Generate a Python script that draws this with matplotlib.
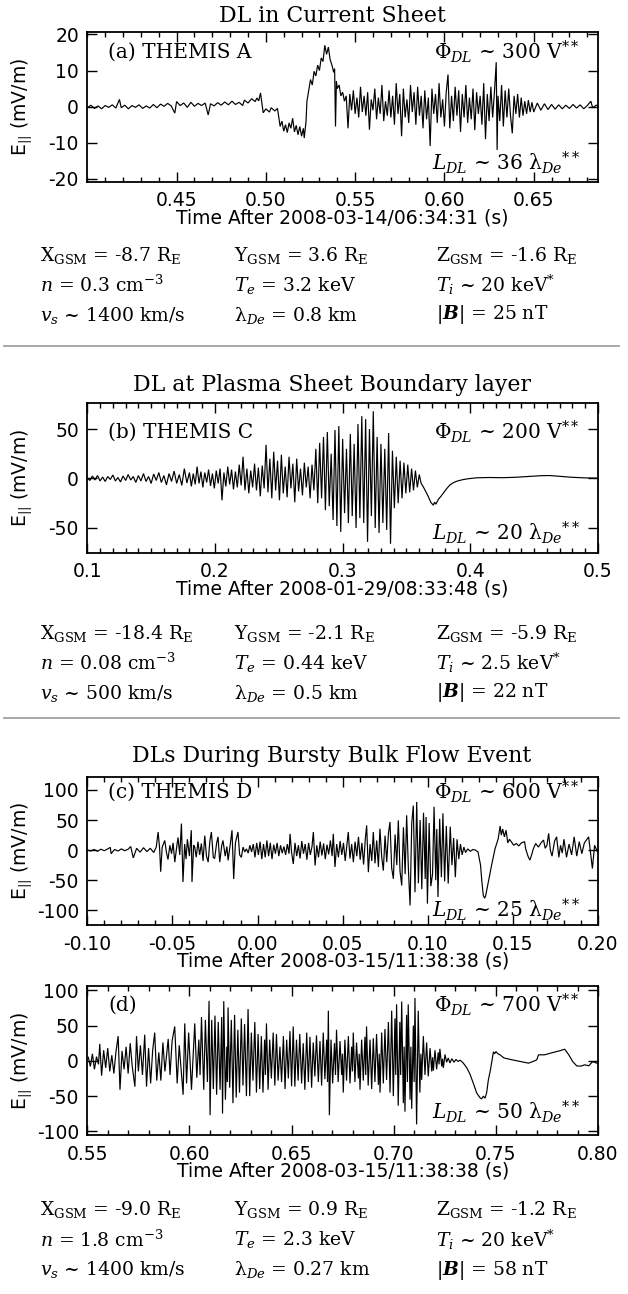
import matplotlib
matplotlib.use("Agg")
import matplotlib.pyplot as plt
from matplotlib.lines import Line2D
from matplotlib.ticker import FixedLocator, FormatStrFormatter

# ---------------- data ----------------
# (a) THEMIS A, time after 2008-03-14/06:34:31 (s), E_par (mV/m)
t_a = [0.400, 0.402, 0.404, 0.406, 0.408, 0.410, 0.412, 0.414, 0.416, 0.418,
       0.419, 0.421, 0.423, 0.425, 0.427, 0.429, 0.431, 0.433, 0.435, 0.437,
       0.439, 0.441, 0.443, 0.445, 0.447, 0.449, 0.450, 0.452, 0.454, 0.456,
       0.458, 0.460, 0.462, 0.464, 0.466, 0.4677, 0.469, 0.471, 0.473, 0.475,
       0.477, 0.479, 0.481, 0.483, 0.485, 0.487, 0.488, 0.490, 0.492, 0.494,
       0.495, 0.496, 0.497, 0.4985, 0.500, 0.502, 0.503, 0.505, 0.5065, 0.508,
       0.509, 0.510, 0.511, 0.512, 0.513, 0.514, 0.515, 0.516, 0.517, 0.518,
       0.519, 0.520, 0.521, 0.5215, 0.5225, 0.523, 0.524, 0.525, 0.526, 0.527,
       0.528, 0.529, 0.530, 0.531, 0.532, 0.533, 0.534, 0.535, 0.536, 0.537,
       0.538, 0.5385, 0.539, 0.5395, 0.540, 0.541, 0.542, 0.543, 0.544, 0.545,
       0.546, 0.547, 0.548, 0.549, 0.550, 0.551, 0.552, 0.553, 0.554, 0.555,
       0.556, 0.557, 0.558, 0.559, 0.560, 0.561, 0.562, 0.563, 0.564, 0.565,
       0.566, 0.567, 0.568, 0.569, 0.570, 0.571, 0.572, 0.573, 0.574, 0.575,
       0.576, 0.577, 0.578, 0.579, 0.580, 0.581, 0.582, 0.583, 0.584, 0.585,
       0.586, 0.587, 0.588, 0.589, 0.590, 0.591, 0.592, 0.593, 0.594, 0.595,
       0.596, 0.597, 0.598, 0.599, 0.600, 0.601, 0.602, 0.603, 0.604, 0.605,
       0.606, 0.607, 0.608, 0.609, 0.610, 0.611, 0.612, 0.613, 0.614, 0.615,
       0.616, 0.617, 0.618, 0.619, 0.620, 0.621, 0.622, 0.623, 0.624, 0.625,
       0.626, 0.627, 0.628, 0.629, 0.6295, 0.630, 0.631, 0.632, 0.633, 0.634,
       0.635, 0.636, 0.637, 0.638, 0.639, 0.640, 0.641, 0.642, 0.643, 0.644,
       0.645, 0.646, 0.647, 0.648, 0.649, 0.650, 0.652, 0.654, 0.656, 0.658,
       0.660, 0.662, 0.664, 0.666, 0.668, 0.670, 0.672, 0.674, 0.676, 0.678,
       0.680, 0.682, 0.683, 0.685, 0.686]
e_a = [-0.3, 0.4, -0.5, 0.2, -0.6, 0.3, -0.2, 0.5, -0.4, 2.0,
       -0.3, 0.4, -0.6, 0.3, -0.2, 0.5, -0.5, 0.2, -0.4, 0.6,
       -0.3, 0.7, 0.1, 0.9, 0.2, -1.8, 1.4, 0.3, 1.0, -0.2,
       1.2, 0.1, 0.9, 0.3, 1.0, -2.3, 0.8, 0.2, 1.1, 0.4,
       1.3, 0.5, 1.5, 0.6, 1.2, 0.3, 1.8, 1.0, 2.2, 1.4,
       2.4, 1.6, 3.8, -1.7, -0.6, -1.5, -0.3, -1.2, -0.5, -5.5,
       -4.0, -6.8, -5.0, -7.2, -4.5, -6.0, -3.2, -7.0, -5.2, -7.8,
       -5.5, -8.2, -6.0, -8.7, -4.0, 1.5, 4.5, 7.5, 6.0, 9.8,
       8.5, 11.5, 10.0, 13.5, 12.5, 17.0, 14.5, 16.5, 13.0, 11.5,
       9.5, 10.5, -5.5, 7.0, 5.0, 6.0, 3.0, 4.0, 1.5, 3.0,
       -6.0, 3.5, -1.0, 4.5, -2.0, 2.5, -3.0, 5.5, -1.5, 3.0,
       -2.5, 4.0, -6.4, 2.0, -1.0, 5.0, -3.5, 2.5, -2.0, 6.0,
       -4.0, 1.5, -2.5, 4.5, -3.0, 3.0, -5.0, 6.5, -2.0, 3.5,
       -8.2, 5.0, -3.0, 2.0, -4.5, 6.0, -1.5, 4.0, -5.0, 5.5,
       -2.5, 3.0, -6.0, 4.5, -3.5, 2.5, -10.9, 5.0, -2.0, 3.5,
       -4.5, 6.5, -3.0, 2.0, -5.5, 4.0, 8.9, -6.0, 3.0, -4.0,
       5.5, -2.5, 4.5, -7.0, 3.5, -3.0, 6.0, -4.5, 2.5, -3.5,
       5.0, -6.5, 4.0, -2.0, 3.0, -5.0, 6.5, -9.0, 3.5, -4.0,
       5.5, -3.0, 4.0, 12.3, -12.0, 3.0, -4.0, 6.0, -5.5, 4.5,
       -3.0, 5.0, -2.5, -7.4, 3.0, -2.0, 3.5, -3.0, 2.5, -2.5,
       1.5, -2.0, 1.8, -1.5, 1.2, -1.5, 1.0, -1.0, 0.8, -0.8,
       0.6, -0.7, 0.5, -0.6, 0.4, -0.5, 0.6, -0.4, 0.5, -0.6,
       0.3, 1.5, -0.3, 0.4, 0.2]

# (b) THEMIS C, time after 2008-01-29/08:33:48 (s)
t_b = [0.100, 0.102, 0.104, 0.106, 0.108, 0.110, 0.112, 0.114, 0.116, 0.118,
       0.120, 0.122, 0.124, 0.126, 0.128, 0.130, 0.132, 0.134, 0.136, 0.138,
       0.140, 0.142, 0.144, 0.146, 0.148, 0.150, 0.152, 0.154, 0.156, 0.158,
       0.160, 0.162, 0.164, 0.166, 0.168, 0.170, 0.172, 0.174, 0.176, 0.178,
       0.180,
       0.1815, 0.1830, 0.1845, 0.1860, 0.1875, 0.1890, 0.1905, 0.1920, 0.1935, 0.1950,
       0.1965, 0.1980, 0.1995, 0.2010, 0.2025, 0.2040, 0.2055, 0.2070, 0.2085, 0.2100,
       0.2115, 0.2130, 0.2145, 0.2160, 0.2175, 0.2190, 0.2205, 0.2220, 0.2235, 0.2250,
       0.2265, 0.2280, 0.2295, 0.2310, 0.2325, 0.2340, 0.2355, 0.2370, 0.2385, 0.2400,
       0.2415, 0.2430, 0.2445, 0.2460, 0.2475, 0.2490, 0.2505, 0.2520, 0.2535, 0.2550,
       0.2565, 0.2580, 0.2595, 0.2610, 0.2625, 0.2640, 0.2655, 0.2670, 0.2685, 0.2700,
       0.2715, 0.2730, 0.2745, 0.2760, 0.2775, 0.2790, 0.2805, 0.2820, 0.2835, 0.2850,
       0.2865, 0.2880, 0.2895, 0.2910, 0.2925, 0.2940, 0.2955, 0.2970, 0.2985, 0.3000,
       0.3015, 0.3030, 0.3045, 0.3060, 0.3075, 0.3090, 0.3105, 0.3120, 0.3135, 0.3150,
       0.3165, 0.3180, 0.3195, 0.3210, 0.3225, 0.3240, 0.3255, 0.3270, 0.3285, 0.3300,
       0.3315, 0.3330, 0.3345, 0.3360, 0.3375, 0.3390, 0.3405, 0.3420, 0.3435, 0.3450,
       0.3465, 0.3480, 0.3495, 0.3510, 0.3525, 0.3540, 0.3555, 0.3570, 0.3585, 0.3600,
       0.3615,
       0.363, 0.365, 0.367, 0.369, 0.371, 0.372, 0.373, 0.375, 0.377, 0.379,
       0.381, 0.384, 0.387, 0.390, 0.394, 0.398, 0.405, 0.415, 0.425, 0.435,
       0.445, 0.455, 0.462, 0.470, 0.480, 0.490, 0.500]
e_b = [0.5, -2.0, 2.5, -1.5, 3.0, -2.5, 1.5, -3.0, 2.0, -1.0,
       3.5, -2.5, 1.0, -3.5, 2.5, -2.0, 4.0, -1.5, 2.0, -4.0,
       3.0, -2.5, 5.0, -3.0, 2.0, -5.0, 4.5, -2.0, 6.0, -4.0,
       3.0, -6.5, 5.0, -3.0, 7.5, -5.0, 4.0, -7.0, 10.0, -4.5,
       6.0,
       -8.0, 5.0, -6.0, 12.0, -5.0, 7.0, -9.0, 6.0, -4.0, 9.0,
       -7.5, 5.0, -10.0, 8.0, -5.0, 10.0, -22.0, 6.0, -8.0, 12.0,
       -6.0, 9.0, -11.0, 7.0, -9.0, 14.0, -7.0, 22.0, -12.0, 10.0,
       -15.0, 8.0, -9.0, 15.0, -12.0, 11.0, -18.0, 13.0, -10.0, 34.0,
       -14.0, 20.0, -20.0, 27.0, -12.0, 18.0, -22.0, 24.0, -15.0, 12.0,
       -19.0, 22.0, -10.0, 15.0, -24.0, 20.0, -13.0, 10.0, -17.0, 16.0,
       -9.0, 12.0, -20.0, 14.0, -12.0, 30.0, -25.0, 36.0, -20.0, 42.0,
       -32.0, 47.0, -28.0, 25.0, -42.0, 49.0, -48.0, 53.0, -54.0, 40.0,
       -35.0, 30.0, -45.0, 45.0, -38.0, 35.0, -50.0, 55.0, -40.0, 63.0,
       -45.0, 60.0, -64.0, 50.0, -38.0, 68.0, -50.0, 42.0, -55.0, 35.0,
       -45.0, 30.0, -52.0, 46.0, -66.0, 28.0, -30.0, 22.0, -25.0, 18.0,
       -20.0, 16.0, -15.0, 14.0, -14.0, 10.0, -12.0, 8.0, -9.0, 4.0,
       -5.0,
       -8.0, -13.0, -18.0, -24.0, -27.0, -24.0, -26.0, -21.0, -18.0, -14.5,
       -11.0, -6.5, -4.0, -2.5, -1.2, -0.3, 0.7, 1.0, 0.8, 1.2,
       2.0, 2.8, 3.0, 2.2, 1.2, 0.6, 0.3]

# (c) THEMIS D, time after 2008-03-15/11:38:38 (s)
t_c = [-0.100, -0.098, -0.096, -0.094, -0.092, -0.090, -0.088, -0.0865, -0.086, -0.084,
       -0.082, -0.080, -0.078, -0.076, -0.0745, -0.073, -0.071, -0.069, -0.067, -0.065,
       -0.063, -0.061, -0.0595, -0.0584, -0.0575, -0.0569, -0.056, -0.0545, -0.0535, -0.0526,
       -0.0515, -0.0505, -0.0496, -0.0486, -0.0475, -0.0467, -0.0457, -0.0447, -0.0438, -0.0428,
       -0.042, -0.0412, -0.040, -0.0389, -0.0385, -0.0375, -0.0369, -0.036, -0.035, -0.034,
       -0.033, -0.032, -0.031, -0.030, -0.029, -0.028, -0.0271, -0.026, -0.0252, -0.024,
       -0.0232, -0.0222, -0.021, -0.0203, -0.019, -0.018, -0.0173, -0.016, -0.015, -0.014,
       -0.013, -0.0115, -0.0105, -0.0095, -0.0085, -0.0075, -0.0065, -0.0055, -0.0045, -0.0035,
       -0.0025, -0.0015, -0.0005, 0.0005, 0.0015, 0.0025, 0.0035, 0.0045, 0.0055, 0.0065,
       0.0075, 0.0085, 0.0095, 0.0105, 0.0115, 0.0125, 0.0135, 0.0145, 0.0155, 0.0165,
       0.0175, 0.0185, 0.0191, 0.0200, 0.0210, 0.0220, 0.0230, 0.0240, 0.0250, 0.0260,
       0.0270, 0.0280, 0.0290, 0.0300, 0.0310, 0.0320, 0.0328, 0.0338, 0.0348, 0.0358,
       0.0368, 0.0378, 0.0388, 0.0398, 0.0408, 0.0418, 0.0428, 0.0438, 0.0445, 0.0455,
       0.0465, 0.0475, 0.0485, 0.0495, 0.0505, 0.0515, 0.0525, 0.0533, 0.0543, 0.0553,
       0.0563, 0.0573, 0.0583, 0.0593, 0.0603, 0.0613, 0.0623, 0.0633, 0.0641, 0.0651,
       0.0661, 0.0671, 0.0680, 0.0690, 0.0700, 0.0710, 0.0719, 0.0729, 0.0739, 0.0749,
       0.0759, 0.0769, 0.0778, 0.0788, 0.0798, 0.0808, 0.0818, 0.0827, 0.0837, 0.0847,
       0.0857, 0.0867, 0.0876, 0.0886, 0.0896, 0.0906, 0.0915, 0.0925, 0.0935, 0.0945,
       0.0955, 0.0965, 0.0975, 0.0985, 0.0990, 0.0998, 0.1008, 0.1018, 0.1028, 0.1037,
       0.1047, 0.1053, 0.1060, 0.1070, 0.1080, 0.1089, 0.1099, 0.1109, 0.1120, 0.1132,
       0.1142, 0.1152, 0.1162, 0.1172, 0.1182, 0.1192, 0.1202, 0.1212, 0.1222, 0.1235,
       0.1250, 0.1265, 0.1280, 0.1295, 0.1310, 0.1318, 0.1326, 0.1334, 0.1340, 0.1356,
       0.1375, 0.1395, 0.1414, 0.1425, 0.1432, 0.1440, 0.1450, 0.1460, 0.1470, 0.1480,
       0.1490, 0.1505, 0.1520, 0.1535, 0.1550, 0.1569, 0.1575, 0.1590, 0.1600, 0.1610,
       0.1620, 0.1634, 0.1650, 0.1665, 0.1680, 0.1690, 0.1700, 0.1710, 0.1720, 0.1730,
       0.1745, 0.1757, 0.1770, 0.1780, 0.1790, 0.1800, 0.1815, 0.1830, 0.1845, 0.1860,
       0.1875, 0.1890, 0.1905, 0.1920, 0.1945, 0.1967, 0.1980, 0.2000]
e_c = [0.0, -1.5, 1.0, -2.0, 1.5, -1.0, 2.0, 4.5, -6.0, 1.0,
       -1.5, 2.0, -1.0, 1.5, 6.0, -13.0, 3.0, -3.5, 4.0, -2.5,
       3.0, -4.0, 5.0, 30.0, 2.0, -36.0, 5.0, 16.0, -4.0, -15.6,
       8.0, -6.0, 12.0, -20.0, 5.0, 21.0, -8.0, 44.0, -53.0, 10.0,
       -15.0, 18.0, -10.0, 33.0, -53.0, 8.0, 5.0, -12.0, 14.0, -8.0,
       11.0, -18.0, 24.0, -10.0, -20.0, 15.0, 30.0, -12.0, -14.0, 12.0,
       22.0, -20.0, 8.0, 16.0, -10.0, 6.0, -17.0, 10.0, 33.0, -48.0,
       12.0, 30.0, -8.0, -12.0, 5.0, -3.0, 2.0, -5.0, 8.0, -3.0,
       10.0, -12.0, 12.0, -8.0, 14.0, -15.0, 10.0, -12.0, 16.0, -10.0,
       12.0, -15.0, 9.0, -6.0, 12.0, -10.0, 8.0, -5.0, 6.0, -8.0,
       10.0, -6.0, 27.0, -4.0, -23.0, 12.0, -10.0, 8.0, -14.0, 15.0,
       -6.0, 10.0, -16.0, 12.0, -8.0, 6.0, 30.0, -25.6, 8.0, -12.0,
       14.0, -9.0, 11.0, -15.0, 9.0, -7.0, 16.0, -10.0, 27.0, -28.0,
       10.0, -12.0, 15.0, -8.0, 12.0, -18.0, 8.0, 30.0, -14.0, 10.0,
       -20.0, 14.0, -10.0, 22.0, -16.0, 12.0, -24.0, 18.0, 41.0, -36.7,
       10.0, -18.0, 30.0, -22.0, 16.0, -28.0, 35.5, -10.0, -34.0, 24.0,
       -20.0, 28.0, 46.7, -30.0, -47.8, 26.0, -25.0, 49.4, -35.0, -58.9,
       38.0, -40.0, 57.8, -30.0, -92.0, 45.0, 74.0, -70.0, 80.0, -55.0,
       50.0, -65.0, 62.0, -48.0, 55.0, -89.0, 45.0, -60.0, -40.0, 72.0,
       -50.0, 35.0, -78.0, 52.0, -45.0, 61.0, -52.0, 40.0, -55.6, 39.0,
       -25.0, 20.0, -45.0, 18.0, -15.0, 10.0, -8.0, 5.0, -4.0, 2.0,
       -2.0, 1.0, 0.0, -3.0, -25.0, -53.0, -75.0, -80.0, -76.0, -53.0,
       -25.0, 2.0, 19.0, 40.0, 25.0, 35.0, 22.0, 33.0, 12.0, 18.0,
       14.0, 8.0, 11.0, 7.0, 12.0, 14.0, 2.0, -11.0, -16.7, -8.0,
       2.0, 11.0, 5.0, 12.0, 16.7, 3.0, 8.0, 27.8, 0.0, -10.0,
       15.0, 22.0, -12.0, 8.0, -5.0, 18.0, -12.0, 10.0, -8.0, 22.0,
       -10.0, 14.0, -6.0, 12.0, 22.0, -30.6, 8.0, -5.0]

# (d) THEMIS D, time after 2008-03-15/11:38:38 (s)
t_d = [0.5505, 0.5515, 0.5525, 0.5535, 0.5545, 0.5555, 0.5561, 0.5570, 0.5580, 0.5590,
       0.5600, 0.5610, 0.5620, 0.5630, 0.5640, 0.5651, 0.5660, 0.5670, 0.5680, 0.5690,
       0.5700, 0.5710, 0.5720, 0.5733, 0.5741, 0.5750, 0.5760, 0.5770, 0.5781, 0.5790,
       0.5800, 0.5810, 0.5820, 0.5830, 0.5840, 0.5850, 0.5860, 0.5870, 0.5880, 0.5896,
       0.5905, 0.5915, 0.5928, 0.5940, 0.5950, 0.5969, 0.5977, 0.5986, 0.5996, 0.6010,
       0.6026, 0.6036, 0.6046, 0.6052, 0.6059, 0.6070, 0.6078, 0.6088, 0.6096, 0.6101,
       0.6109, 0.6117, 0.6125, 0.6133, 0.6141, 0.6150, 0.6158, 0.6162, 0.6168, 0.6176,
       0.6183, 0.6186, 0.6189, 0.6197, 0.6205, 0.6213, 0.6221, 0.6229, 0.6237, 0.6245,
       0.6254, 0.6262, 0.6270, 0.6279, 0.6287, 0.6295, 0.6303, 0.6311, 0.6320, 0.6328,
       0.6336, 0.6344, 0.6352, 0.6360, 0.6368, 0.6372, 0.6377, 0.6385, 0.6393, 0.6401,
       0.6410, 0.6418, 0.6426, 0.6434, 0.6443, 0.6451, 0.6460, 0.6468, 0.6476, 0.6484,
       0.6492, 0.6500, 0.6508, 0.6516, 0.6524, 0.6532, 0.6540, 0.6549, 0.6557, 0.6565,
       0.6574, 0.6582, 0.6590, 0.6598, 0.6606, 0.6614, 0.6622, 0.6631, 0.6639, 0.6647,
       0.6655, 0.6663, 0.6672, 0.6676,
       0.6680, 0.6685, 0.6693, 0.6701, 0.6710, 0.6715, 0.6720, 0.6728, 0.6737, 0.6745,
       0.6749, 0.6753, 0.6761, 0.6769, 0.6778, 0.6786, 0.6794, 0.6798, 0.6802, 0.6810,
       0.6818, 0.6827, 0.6831, 0.6835, 0.6843, 0.6851, 0.6859, 0.6863, 0.6867, 0.6875,
       0.6884, 0.6892, 0.6900, 0.6908, 0.6916, 0.6925, 0.6929, 0.6933, 0.6941, 0.6949,
       0.6957, 0.6965, 0.6974, 0.6982, 0.6990, 0.6998, 0.7006, 0.7010, 0.7014, 0.7022,
       0.7030, 0.7034, 0.7039, 0.7047, 0.7051, 0.7055, 0.7063, 0.7067, 0.7071, 0.7080,
       0.7084, 0.7088, 0.7096, 0.7100, 0.7104, 0.7112, 0.7120, 0.7128, 0.7133, 0.7137,
       0.7145, 0.7153, 0.7161, 0.7169, 0.7178, 0.7186, 0.7190, 0.7194, 0.7202, 0.7210,
       0.7218, 0.7222, 0.7226, 0.7235, 0.7239, 0.7243, 0.7251, 0.7259, 0.7267, 0.7275,
       0.7285, 0.7295, 0.7305, 0.7315, 0.7325, 0.7340,
       0.7357, 0.7373, 0.7390, 0.7406, 0.7422, 0.7430, 0.7439, 0.7447, 0.7455, 0.7463,
       0.7474, 0.7488, 0.7494, 0.7500, 0.7510, 0.7520, 0.7540, 0.7580, 0.7620, 0.7660,
       0.7690, 0.7700, 0.7709, 0.7738, 0.7778, 0.7817, 0.7837, 0.7857, 0.7876, 0.7896,
       0.7916, 0.7935, 0.7955, 0.7974, 0.8000]
e_d = [5, -8, 10, -12, 6, -5, 24, -21, 15, -10,
       18, -15, 8, -18, 12, 35, -41, 14, -12, 20,
       -18, 25, -8, -36.5, 35, -15, 22, -20, 37, -36.5,
       18, -32, 15, 40, -28, 12, -28, 26, -15, 31,
       -20, 28, 48.7, -32, 22, -48, 53, -32, 40, -41,
       53, -24, 30, -20, 62, -41, 58, -30, 85, -77,
       58, -40, 64, -48, 55, -41, 62, -74.7, 84.5, -55,
       20, -30, 75.6, -38, 58, -60, 65, -52, 44, -45,
       60, -35, 52, -50, 73.3, -50, 40, -28, 55, -45,
       38, -40, 35, -45, 30, -20, 53, -41, 30, -25,
       40, -35, 38, -28, 20, -30, 35, -40, 30, -25,
       42, -36, 48.7, -36.5, 30, -28, 38, -32, 25, -41,
       40, -30, 34, -38, 26, -22, 36, -30, 28, -35,
       40, -26, 30, -30,
       71, -77, 30, -32, 25, -20, 44, -30, 28, -20,
       10, -45, 30, -28, 35, -32, 20, -15, 40, -30,
       26, -25, 10, -41, 30, -28, 34, -20, 48.7, -35,
       30, -40, 32, -30, 38, -34, 10, -45, 40, -32,
       45, -27, 55, -45, 71, -50, 60, -20, 80, -63.5,
       55, -20, 84, -60, 20, -72, 65, -30, 80, -55,
       20, -68, 50, -30, 89, -90, 71, -45, 10, -27,
       35, -20, 26, -22, 18, -15, 5, -14, 15, -12,
       12, -5, 17, -8, 3, -10, 9, -2, 4, -3,
       3, -2, 2, -1, 1, -3,
       -9.6, -18.6, -32, -45.5, -52.2, -54, -50, -53, -45, -27.6,
       -12, 12.8, 10, 13.2, 10, 8.5, 4, 1.4, -1, -3.3,
       0, 1.4, 8.5, 8.5, 11.7, 14.6, 16.5, 8.5, -1, -7.2,
       -7.5, -5.7, -7, -1, -4]

titles = ["DL in Current Sheet", "DL at Plasma Sheet Boundary layer",
          "DLs During Bursty Bulk Flow Event"]
tags = ["(a) THEMIS A", "(b) THEMIS C", "(c) THEMIS D", "(d)"]
phi_dl = [300, 200, 600, 700]
l_dl = [36, 20, 25, 50]
epochs = ["2008-03-14/06:34:31", "2008-01-29/08:33:48",
          "2008-03-15/11:38:38", "2008-03-15/11:38:38"]

params = [
    [["-8.7", "3.6", "-1.6"], ["0.3", "3.2", "20"], ["1400", "0.8", "25"]],
    [["-18.4", "-2.1", "-5.9"], ["0.08", "0.44", "2.5"], ["500", "0.5", "22"]],
    [["-9.0", "0.9", "-1.2"], ["1.8", "2.3", "20"], ["1400", "0.27", "58"]],
]

# ---------------- layout (pixels from the top-left) ----------------
W, H = 628, 1294
plt.rcParams.update({
    "font.family": "DejaVu Sans",
    "mathtext.fontset": "dejavuserif",
    "axes.unicode_minus": False,
})
SERIF = "DejaVu Serif"
TICK_FS = 13.5
ANN_FS = 14.5
PAR_FS = 13.5
TITLE_FS = 15.8
AX_L, AX_R = 87.3, 598.0


def fx(px):
    return px / W


def fy(py):
    return 1 - py / H


fig = plt.figure(figsize=(W / 100, H / 100), dpi=100)


def panel(k, top, bot, t, e, xlim, ylim, xmaj, xmin, yticks, fmt, ann_y):
    ax = fig.add_axes([fx(AX_L), fy(bot), fx(AX_R) - fx(AX_L), (bot - top) / H])
    ax.plot(t, e, color="black", lw=0.85, solid_joinstyle="miter")
    ax.set_xlim(*xlim)
    ax.set_ylim(*ylim)
    ax.xaxis.set_major_locator(FixedLocator(xmaj))
    ax.xaxis.set_minor_locator(FixedLocator(xmin))
    ax.xaxis.set_major_formatter(FormatStrFormatter(fmt))
    ax.yaxis.set_major_locator(FixedLocator(yticks))
    ax.tick_params(which="both", direction="in", top=True, right=True,
                   labelsize=TICK_FS, width=1.0)
    ax.tick_params(which="major", length=7)
    ax.tick_params(which="minor", length=3.5)
    ax.tick_params(axis="x", pad=7)
    ax.tick_params(axis="y", pad=6)
    for s in ax.spines.values():
        s.set_linewidth(1.3)
    ax.set_xlabel(f"Time After {epochs[k]} (s)", fontsize=TICK_FS, labelpad=-1.5)
    fig.text(fx(22), fy((top + bot) / 2), r"E$_{||}$ (mV/m)", rotation=90,
             ha="center", va="center", fontsize=TICK_FS)
    ty, py, ly = ann_y
    fig.text(fx(108), fy(ty), tags[k], family=SERIF, fontsize=ANN_FS,
             ha="left", va="center")
    fig.text(fx(580), fy(py), rf"$\Phi_{{DL}}$ ~ {phi_dl[k]} V$^{{**}}$",
             family=SERIF, fontsize=ANN_FS, ha="right", va="center")
    fig.text(fx(580), fy(ly), rf"$L_{{DL}}$ ~ {l_dl[k]} λ$_{{De}}{{}}^{{**}}$",
             family=SERIF, fontsize=ANN_FS, ha="right", va="center")
    return ax


def hundredths(a, b):
    return [round(a + 0.01 * i, 2) for i in range(int(round((b - a) / 0.01)) + 1)]


panel(0, 32.3, 181.7, t_a, e_a, (0.40, 0.686), (-20.8, 20.6),
      [0.45, 0.50, 0.55, 0.60, 0.65], hundredths(0.40, 0.68),
      [-20, -10, 0, 10, 20], "%.2f", (52, 52, 163))
panel(1, 403.3, 552.7, t_b, e_b, (0.1, 0.5), (-75, 76),
      [0.1, 0.2, 0.3, 0.4, 0.5], hundredths(0.10, 0.50),
      [-50, 0, 50], "%.1f", (432, 432, 533))
panel(2, 776.7, 925.3, t_c, e_c, (-0.10, 0.20), (-125, 122),
      [-0.10, -0.05, 0.0, 0.05, 0.10, 0.15, 0.20], hundredths(-0.10, 0.20),
      [-100, -50, 0, 50, 100], "%.2f", (792, 792, 910))
panel(3, 986.0, 1135.3, t_d, e_d, (0.55, 0.80), (-105.5, 106),
      [0.55, 0.60, 0.65, 0.70, 0.75, 0.80], hundredths(0.55, 0.80),
      [-100, -50, 0, 50, 100], "%.2f", (1005, 1005, 1112))

# titles
for txt, y in zip(titles, [16, 385, 756]):
    fig.text(fx(332), fy(y), txt, family=SERIF, fontsize=TITLE_FS,
             ha="center", va="center")

# parameter tables
for block, rows_y in zip(params, [(255, 285, 315), (634, 663, 693), (1210, 1240, 1270)]):
    (x, y, z), (n, te, ti), (vs, lam, b) = block
    cells = [
        [f"X$_{{\\mathrm{{GSM}}}}$ = {x} R$_{{\\mathrm{{E}}}}$",
         f"Y$_{{\\mathrm{{GSM}}}}$ = {y} R$_{{\\mathrm{{E}}}}$",
         f"Z$_{{\\mathrm{{GSM}}}}$ = {z} R$_{{\\mathrm{{E}}}}$"],
        [f"$n$ = {n} cm$^{{-3}}$", f"$T_e$ = {te} keV", f"$T_i$ ~ {ti} keV$^{{*}}$"],
        [f"$v_s$ ~ {vs} km/s", f"λ$_{{De}}$ = {lam} km",
         f"$|\\boldsymbol{{B}}|$ = {b} nT"],
    ]
    for row, ry in zip(cells, rows_y):
        for cell, cx in zip(row, [40, 234, 436.5]):
            fig.text(fx(cx), fy(ry), cell, family=SERIF, fontsize=PAR_FS,
                     ha="left", va="center")

# separators between the event blocks
for y in (346, 718.3):
    fig.add_artist(Line2D([fx(4), fx(619)], [fy(y), fy(y)], color="#a0a0a0", lw=1.3))

fig.savefig("out.png", dpi=100)
